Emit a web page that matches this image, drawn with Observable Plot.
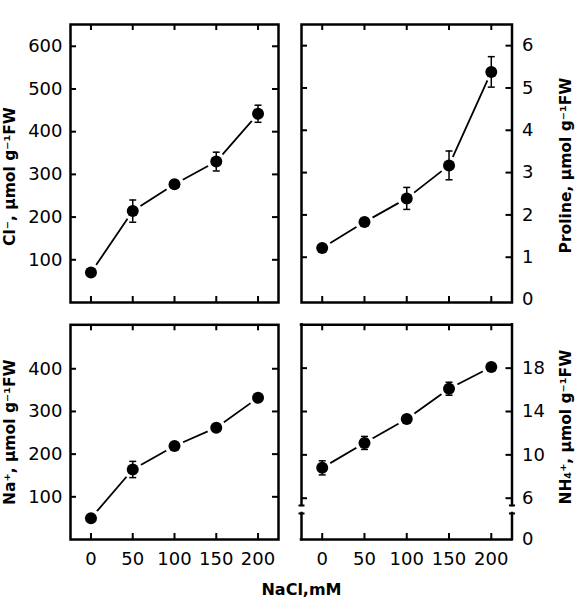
<!DOCTYPE html>
<html><head><meta charset="utf-8">
<script src="https://cdn.jsdelivr.net/npm/d3@7"></script>
<script src="https://cdn.jsdelivr.net/npm/@observablehq/plot@0.6"></script>
<style>
body{margin:0;background:#fff;}
#wrap{position:relative;width:577px;height:599px;font-family:"DejaVu Sans",sans-serif;}
.p{position:absolute;}
#wrap svg text{font-family:"DejaVu Sans",sans-serif;}
#xlabel{position:absolute;font-weight:bold;font-size:16px;white-space:nowrap;}
</style></head><body><div id="wrap"></div>
<script>
// ---- data ----
const nacl = [0, 50, 100, 150, 200];
const xTicks = [0, 50, 100, 150, 200];

const clMean = [70, 214, 277, 330, 442];
const clErr = [0, 26, 0, 22, 20];
const clTicks = [100, 200, 300, 400, 500, 600];

const prolineMean = [1.22, 1.83, 2.39, 3.17, 5.38];
const prolineErr = [0, 0, 0.26, 0.34, 0.36];
const prolineTicks = [0, 1, 2, 3, 4, 5, 6];

const naMean = [50, 164, 219, 262, 332];
const naErr = [0, 19, 0, 0, 0];
const naTicks = [100, 200, 300, 400];

const nh4Mean = [8.8, 11.1, 13.3, 16.1, 18.1];
const nh4Err = [0.65, 0.6, 0, 0.6, 0];
const nh4Ticks = [6, 10, 14, 18];

const titles = ["Cl\u207B, \u00B5mol g\u207B\u00B9FW", "Proline, \u00B5mol g\u207B\u00B9FW",
                "Na\u207A, \u00B5mol g\u207B\u00B9FW", "NH\u2084\u207A, \u00B5mol g\u207B\u00B9FW"];
const xTitle = "NaCl,mM";

// ---- drawing ----
const cap = {draw(ctx, size) { const w = Math.sqrt(size / Math.PI); ctx.moveTo(-w, 0); ctx.lineTo(w, 0); }};
const xDomain = [-24.5, 224.5];

function panel(o) {
  const rows = nacl.map((x, i) => ({x, y: o.mean[i], e: o.err[i]}));
  const errRows = rows.filter(d => d.e > 0);
  const caps = errRows.flatMap(d => [{x: d.x, y: d.y - d.e}, {x: d.x, y: d.y + d.e}]);
  const iw = o.width - o.ml - o.mr, ih = o.height - o.mt - o.mb;
  const left = o.side === "left";
  const marks = [
    Plot.line(rows, {x: "x", y: "y", stroke: "#000", strokeWidth: 1.8}),
    Plot.dot(rows, {x: "x", y: "y", r: 9.5, fill: "#fff"}),
    Plot.ruleX(errRows, {x: "x", y1: d => d.y - d.e, y2: d => d.y + d.e, stroke: "#000", strokeWidth: 1.5}),
    Plot.dot(caps, {x: "x", y: "y", r: 3.5, symbol: cap, stroke: "#000", strokeWidth: 1.5, fill: "none"}),
    Plot.dot(rows, {x: "x", y: "y", r: 6, fill: "#000"}),
    Plot.tickY(o.tickMarks, {y: d => d, insetRight: iw - 6, strokeWidth: 2}),
    Plot.tickY(o.tickMarks, {y: d => d, insetLeft: iw - 6, strokeWidth: 2}),
    Plot.tickX(xTicks, {x: d => d, insetBottom: ih - 6, strokeWidth: 2}),
    Plot.tickX(xTicks, {x: d => d, insetTop: ih - 6, strokeWidth: 2}),
    Plot.axisY(o.ticks, {anchor: o.side, tickSize: 0, tickPadding: left ? 8 : 10, tickFormat: d => String(d),
      fontSize: 18, fill: "#000", label: null}),
    Plot.text([o.title], {text: d => d, frameAnchor: o.side, rotate: -90, lineAnchor: "bottom", textAnchor: "middle",
      dx: o.tdx, dy: o.tdy, fontWeight: "bold", fontSize: 15.5, fill: "#000"})
  ];
  if (o.showX) {
    marks.push(Plot.axisX(xTicks, {anchor: "bottom", tickSize: 0, tickPadding: 13, tickFormat: d => String(d),
      fontSize: 18, fill: "#000", label: null}));
  }
  if (o.broken) {
    const [y0, y1] = o.yDomain;
    marks.push(
      Plot.ruleY([y0, y1], {y: d => d, stroke: "#000", strokeWidth: 2.5, strokeLinecap: "square"}),
      Plot.ruleX(xDomain, {x: d => d, y1: o.broken[0], y2: y1, stroke: "#000", strokeWidth: 2.5, strokeLinecap: "square"}),
      Plot.ruleX(xDomain, {x: d => d, y1: y0, y2: o.broken[1], stroke: "#000", strokeWidth: 2.5, strokeLinecap: "square"}),
      Plot.dot(xDomain.flatMap(x => o.broken.map(y => ({x, y}))), {x: "x", y: "y", r: 3, symbol: cap, stroke: "#000", strokeWidth: 2}),
      Plot.text(["0"], {text: d => d, frameAnchor: "bottom-right", textAnchor: "start", dx: 10, dy: 5, fontSize: 18, fill: "#000"})
    );
  } else {
    marks.push(Plot.frame({stroke: "#000", strokeWidth: 2.5}));
  }
  const svg = Plot.plot({
    width: o.width, height: o.height,
    marginLeft: o.ml, marginRight: o.mr, marginTop: o.mt, marginBottom: o.mb,
    style: {fontFamily: "DejaVu Sans", fontSize: "18px", color: "#000", background: "#fff", overflow: "visible"},
    x: {domain: xDomain, label: null, axis: null},
    y: {domain: o.yDomain, label: null, axis: null},
    marks
  });
  const div = document.createElement("div");
  div.className = "p";
  div.style.left = o.left + "px";
  div.style.top = o.top + "px";
  div.appendChild(svg);
  document.getElementById("wrap").appendChild(div);
}

panel({mean: clMean, err: clErr, yDomain: [0, 651], ticks: clTicks, tickMarks: clTicks, side: "left",
  title: titles[0], tdx: -56, tdy: 13, left: 0, top: 0, width: 290, height: 310, ml: 70, mr: 12, mt: 24, mb: 8, showX: false});
panel({mean: prolineMean, err: prolineErr, yDomain: [-0.07, 6.5], ticks: prolineTicks, tickMarks: prolineTicks.slice(1), side: "right",
  title: titles[1], tdx: 58.5, tdy: 2, left: 290, top: 0, width: 287, height: 310, ml: 11, mr: 65.5, mt: 24, mb: 8, showX: false});
panel({mean: naMean, err: naErr, yDomain: [0, 503], ticks: naTicks, tickMarks: naTicks, side: "left",
  title: titles[2], tdx: -56, tdy: 0, left: 0, top: 310, width: 290, height: 289, ml: 70, mr: 12, mt: 14.3, mb: 60, showX: true});
panel({mean: nh4Mean, err: nh4Err, yDomain: [2.19, 22], ticks: nh4Ticks, tickMarks: nh4Ticks, side: "right", broken: [5.33, 4.59],
  title: titles[3], tdx: 59, tdy: -5, left: 290, top: 310, width: 287, height: 289, ml: 11, mr: 65.5, mt: 14.3, mb: 60, showX: true});

const xl = document.createElement("div");
xl.id = "xlabel";
xl.textContent = xTitle;
xl.style.left = "301.5px";
xl.style.top = "580px";
xl.style.transform = "translateX(-50%)";
document.getElementById("wrap").appendChild(xl);
</script>
</body></html>
